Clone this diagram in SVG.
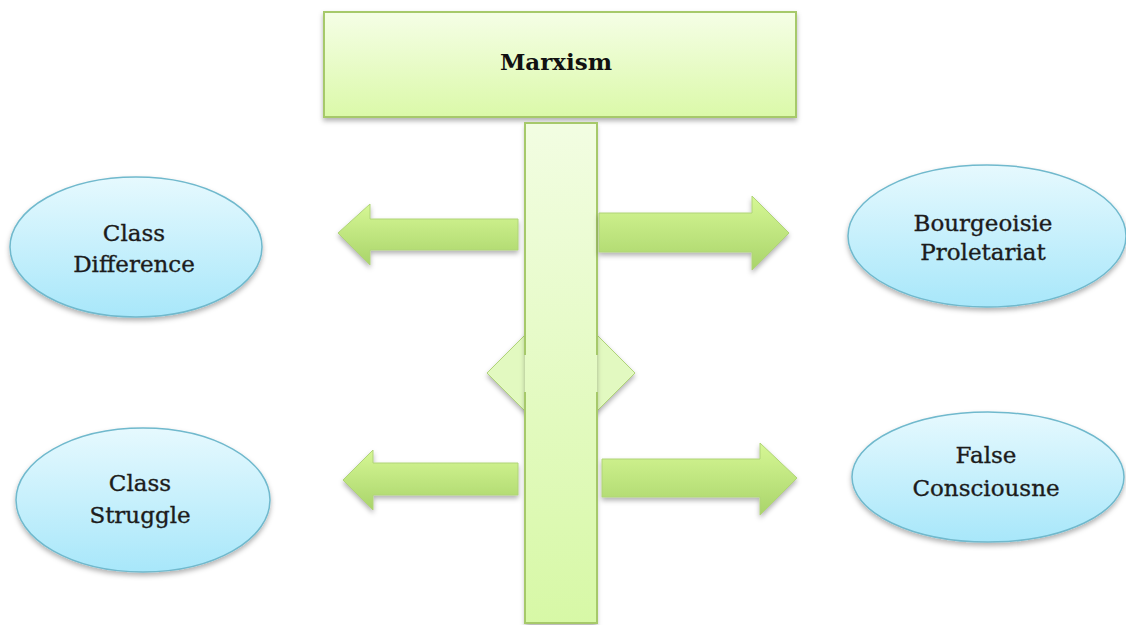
<svg xmlns="http://www.w3.org/2000/svg" width="1126" height="625" viewBox="0 0 1126 625">
<defs>
<linearGradient id="gBox" x1="0" y1="0" x2="0" y2="1"><stop offset="0" stop-color="#f5fee6"/><stop offset="1" stop-color="#dbf9a9"/></linearGradient>
<linearGradient id="gBar" x1="0" y1="0" x2="0" y2="1"><stop offset="0" stop-color="#f2fde2"/><stop offset="1" stop-color="#d7f8a6"/></linearGradient>
<linearGradient id="gArrow" x1="0" y1="0" x2="0" y2="1"><stop offset="0" stop-color="#d6f795"/><stop offset="1" stop-color="#a9d46a"/></linearGradient>
<linearGradient id="gEll" x1="0" y1="0" x2="0" y2="1"><stop offset="0" stop-color="#e6f9fe"/><stop offset="1" stop-color="#a8e7fa"/></linearGradient>
<filter id="sh" x="-10%" y="-10%" width="120%" height="130%"><feDropShadow dx="0" dy="3" stdDeviation="2.5" flood-color="#000" flood-opacity="0.3"/></filter>
</defs>
<style>
.box{fill:url(#gBox);stroke:#a6c96a;stroke-width:2;filter:url(#sh)}
.arr{fill:url(#gArrow);stroke:#b0d478;stroke-width:1;filter:url(#sh)}
.ell{fill:url(#gEll);stroke:#70b9cd;stroke-width:1.5;filter:url(#sh)}
.t{font-family:"DejaVu Serif","Liberation Serif",serif;font-size:23px;fill:#1c1c1c;stroke:#1c1c1c;stroke-width:0.35;text-anchor:middle}
.tb{font-family:"DejaVu Serif","Liberation Serif",serif;font-size:23px;font-weight:bold;fill:#111;text-anchor:middle}
</style>
<g id="marxism">
<rect class="box" x="324" y="12" width="472" height="105"/>
<text class="tb" x="556" y="70">Marxism</text>
</g>
<g id="connectors">
<polygon class="arr" points="487,373 561,299 635,373 561,447" style="fill:#e2f9c0;stroke:#b0d478"/>
<rect x="525" y="123" width="72" height="501" fill="url(#gBar)" filter="url(#sh)"/>
<g stroke="#a6c96a" stroke-width="2" fill="none">
<polyline points="525,355 525,123 597,123 597,355"/>
<polyline points="525,392 525,623 597,623 597,392"/>
</g>
<polygon class="arr" points="338,233 370,204 370,219 518,219 518,250 370,250 370,265"/>
<polygon class="arr" points="599,213 752,213 752,196 789,233 752,270 752,252 599,252"/>
<polygon class="arr" points="343,480 373,450 373,463 518,463 518,495 373,495 373,510"/>
<polygon class="arr" points="602,459 760,459 760,443 797,478 760,515 760,497 602,497"/>
</g>
<g id="class-difference">
<ellipse class="ell" cx="136" cy="247" rx="126" ry="70"/>
<text class="t" x="134" y="241">Class</text>
<text class="t" x="134" y="272">Difference</text>
</g>
<g id="bourgeoisie-proletariat">
<ellipse class="ell" cx="987" cy="236" rx="139" ry="71"/>
<text class="t" x="983" y="231">Bourgeoisie</text>
<text class="t" x="983" y="260">Proletariat</text>
</g>
<g id="class-struggle">
<ellipse class="ell" cx="143" cy="500" rx="127" ry="72"/>
<text class="t" x="140" y="491">Class</text>
<text class="t" x="140" y="523">Struggle</text>
</g>
<g id="false-consciousness">
<ellipse class="ell" cx="988" cy="477" rx="136" ry="65"/>
<text class="t" x="986" y="463">False</text>
<text class="t" x="986" y="496">Consciousne</text>
</g>
</svg>
